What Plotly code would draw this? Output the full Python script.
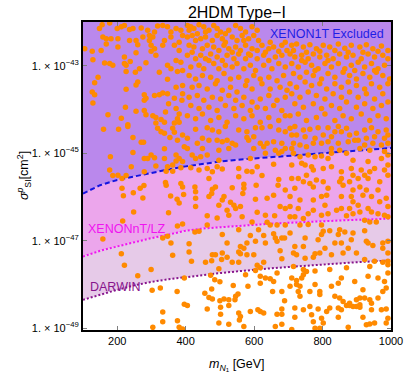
import plotly.graph_objects as go

# limit curves, mass in GeV, log10 of sigma in cm^2
limit_mass = [100, 150, 200, 250, 300, 350, 400, 450, 500, 550, 600, 650, 700, 750, 800, 850, 900, 950, 1000]
xenon1t_log = [-45.92, -45.73, -45.61, -45.53, -45.44, -45.37, -45.30, -45.24, -45.19, -45.15, -45.12, -45.09, -45.05, -45.02, -44.99, -44.97, -44.94, -44.91, -44.88]
lz_log = [-47.36, -47.23, -47.13, -47.03, -46.94, -46.86, -46.77, -46.72, -46.69, -46.66, -46.64, -46.61, -46.59, -46.57, -46.55, -46.54, -46.52, -46.51, -46.49]
darwin_log = [-48.35, -48.23, -48.12, -48.02, -47.94, -47.88, -47.83, -47.78, -47.74, -47.70, -47.66, -47.63, -47.60, -47.57, -47.54, -47.51, -47.49, -47.47, -47.45]

# scan points (m_N1 [GeV], log10 sigma)
pts_left_top = [
    (148, -42.15), (156, -42.06), (178, -42.02), (200, -42.15), (212, -42.11), (221, -42.08), (236, -42.17),
    (246, -42.15), (270, -42.14), (289, -42.19), (294, -42.31), (304, -42.34), (309, -42.23), (318, -42.09),
    (333, -42.08), (347, -42.11), (357, -42.23), (372, -42.15), (386, -42.19), (391, -42.31), (158, -42.34),
    (168, -42.38), (182, -42.38), (202, -42.38), (236, -42.42), (255, -42.42), (260, -42.52), (275, -42.34),
    (294, -42.42), (299, -42.53), (309, -42.61), (333, -42.53), (338, -42.42), (357, -42.34), (367, -42.53),
    (381, -42.46), (105, -42.61), (127, -42.67), (153, -42.65), (168, -42.50), (202, -42.57), (255, -42.70),
    (299, -42.67), (313, -42.76), (381, -42.65), (129, -42.86), (163, -42.94), (178, -42.95), (187, -42.99),
    (221, -42.80), (221, -42.95), (226, -42.99), (238, -42.90), (284, -42.93), (347, -42.99), (357, -43.07),
    (372, -42.88), (376, -43.13), (386, -42.92), (391, -43.11), (226, -43.13), (253, -43.15), (265, -43.07),
    (323, -43.15), (144, -43.26), (134, -43.39), (260, -43.37), (255, -43.44), (347, -43.31), (372, -43.49),
    (391, -43.45), (226, -43.54), (127, -43.60), (134, -43.66), (279, -43.66), (279, -43.79), (284, -43.74),
    (309, -43.68), (323, -43.66), (333, -43.62), (347, -43.64), (367, -43.74), (391, -43.64), (389, -43.79),
    (129, -43.85), (224, -43.95), (255, -44.04), (279, -44.02), (304, -44.14), (284, -44.12), (350, -43.87),
    (341, -44.06), (372, -43.98), (381, -44.10), (376, -44.21), (381, -44.29), (173, -44.12), (212, -44.20),
    (313, -44.18), (328, -44.23), (338, -44.29), (313, -44.31), (367, -44.31), (231, -44.35),
]

pts_mid_top = [
    (405, -42.08), (415, -42.11), (424, -42.15), (439, -42.06), (453, -42.11), (468, -42.19), (492, -42.15),
    (502, -42.23), (526, -42.19), (546, -42.08), (560, -42.15), (575, -42.23), (594, -42.11), (609, -42.19),
    (405, -42.34), (419, -42.31), (434, -42.27), (444, -42.38), (458, -42.34), (478, -42.42), (492, -42.31),
    (507, -42.38), (516, -42.27), (536, -42.34), (550, -42.42), (565, -42.31), (584, -42.38), (599, -42.31),
    (613, -42.42), (410, -42.53), (424, -42.57), (449, -42.61), (463, -42.53), (482, -42.57), (497, -42.65),
    (512, -42.53), (526, -42.61), (546, -42.57), (560, -42.65), (575, -42.53), (594, -42.61), (609, -42.65),
    (623, -42.53), (643, -42.61), (657, -42.57), (681, -42.53), (696, -42.65), (405, -42.76), (429, -42.84),
    (444, -42.76), (458, -42.84), (473, -42.73), (492, -42.80), (507, -42.88), (521, -42.76), (541, -42.84),
    (555, -42.73), (575, -42.84), (589, -42.76), (609, -42.84), (628, -42.76), (643, -42.88), (662, -42.80),
    (681, -42.76), (415, -43.03), (439, -42.99), (453, -43.07), (482, -42.95), (497, -43.07), (516, -42.99),
    (536, -43.03), (550, -42.95), (570, -43.07), (589, -42.99), (604, -43.11), (628, -42.99), (652, -43.07),
    (672, -42.95), (691, -43.03), (410, -43.22), (429, -43.30), (449, -43.22), (473, -43.26), (492, -43.34),
    (512, -43.18), (531, -43.30), (555, -43.26), (579, -43.34), (599, -43.22), (618, -43.30), (643, -43.26),
    (667, -43.34), (686, -43.22), (419, -43.49), (439, -43.45), (463, -43.53), (487, -43.41), (507, -43.56),
    (531, -43.49), (550, -43.60), (575, -43.45), (594, -43.53), (623, -43.41), (647, -43.53), (676, -43.49),
    (696, -43.56), (410, -43.72), (434, -43.68), (453, -43.79), (478, -43.72), (502, -43.76), (526, -43.68),
    (546, -43.79), (570, -43.72), (594, -43.83), (618, -43.76), (643, -43.68), (667, -43.79), (691, -43.72),
    (415, -43.91), (439, -43.98), (468, -43.95), (492, -44.02), (516, -43.91), (541, -43.98), (565, -43.91),
    (589, -44.02), (609, -43.95), (633, -43.98), (657, -43.91), (681, -44.02), (405, -44.14), (429, -44.21),
    (449, -44.10), (473, -44.25), (497, -44.18), (521, -44.29), (546, -44.14), (570, -44.21), (594, -44.14),
    (618, -44.29), (643, -44.18), (672, -44.25), (691, -44.14), (410, -42.19), (429, -42.42), (458, -42.23),
    (482, -42.08), (516, -42.46), (536, -42.69), (570, -42.42), (584, -42.73), (633, -42.69), (647, -42.46),
    (672, -42.67), (691, -42.46), (419, -42.69), (468, -42.88),
]

pts_right_top = [
    (710, -42.53), (724, -42.50), (744, -42.57), (763, -42.52), (782, -42.61), (802, -42.53), (821, -42.57),
    (846, -42.50), (865, -42.60), (884, -42.53), (909, -42.57), (928, -42.52), (947, -42.61), (972, -42.55),
    (991, -42.65), (705, -42.73), (719, -42.80), (739, -42.76), (758, -42.84), (773, -42.73), (792, -42.80),
    (812, -42.76), (831, -42.84), (850, -42.73), (870, -42.80), (889, -42.76), (913, -42.84), (933, -42.73),
    (952, -42.80), (976, -42.76), (991, -42.84), (710, -42.95), (729, -43.03), (749, -42.92), (768, -42.99),
    (787, -43.07), (807, -42.95), (826, -43.03), (846, -42.95), (865, -43.07), (884, -42.99), (904, -42.92),
    (923, -43.03), (943, -42.95), (962, -43.07), (981, -42.99), (715, -43.18), (734, -43.26), (753, -43.15),
    (773, -43.22), (797, -43.30), (816, -43.18), (836, -43.26), (860, -43.15), (879, -43.22), (899, -43.30),
    (918, -43.18), (938, -43.26), (957, -43.15), (976, -43.22), (996, -43.30), (705, -43.41), (724, -43.49),
    (749, -43.37), (768, -43.45), (792, -43.41), (812, -43.53), (836, -43.41), (855, -43.49), (875, -43.37),
    (899, -43.45), (923, -43.53), (943, -43.41), (967, -43.49), (991, -43.41), (710, -43.64), (734, -43.72),
    (758, -43.60), (782, -43.68), (807, -43.76), (831, -43.64), (855, -43.72), (879, -43.60), (904, -43.72),
    (928, -43.64), (952, -43.76), (976, -43.64), (719, -43.87), (744, -43.95), (773, -43.87), (797, -43.98),
    (826, -43.91), (850, -43.98), (870, -43.83), (899, -43.95), (923, -43.87), (947, -43.98), (972, -43.91),
    (991, -43.83), (705, -44.14), (729, -44.10), (753, -44.25), (782, -44.18), (807, -44.10), (836, -44.25),
    (860, -44.14), (884, -44.21), (913, -44.10), (938, -44.25), (962, -44.14), (986, -44.21), (715, -42.65),
    (753, -42.69), (792, -42.67), (836, -42.65), (875, -42.69), (918, -42.69), (962, -42.67), (739, -42.88),
    (816, -42.88), (894, -43.11), (952, -43.11), (778, -43.11),
]

pts_left_mid = [
    (160, -44.45), (204, -44.45), (231, -44.39), (246, -44.64), (270, -44.75), (277, -44.75), (318, -44.43),
    (328, -44.51), (338, -44.54), (362, -44.43), (367, -44.52), (354, -44.64), (376, -44.70), (391, -44.58),
    (396, -44.85), (338, -44.90), (246, -44.98), (180, -45.08), (178, -45.38), (202, -45.50), (187, -45.51),
    (226, -45.51), (214, -45.58), (241, -45.31), (279, -45.12), (289, -45.12), (299, -45.04), (309, -45.10),
    (338, -45.12), (313, -45.29), (347, -45.31), (362, -45.27), (372, -45.18), (381, -45.12), (391, -45.19),
    (386, -45.33), (362, -45.41), (343, -45.41), (372, -45.04), (279, -45.42), (214, -45.80), (218, -45.97),
    (247, -45.90), (267, -45.80), (278, -45.74), (275, -46.02), (341, -45.67), (343, -45.73), (386, -45.69),
    (391, -45.77), (356, -45.98), (375, -46.05), (381, -46.14), (394, -45.94), (248, -46.34), (350, -46.36),
    (216, -46.55), (391, -46.62), (376, -46.66),
]

pts_mid_mid = [
    (429, -44.45), (463, -44.42), (478, -44.47), (497, -44.51), (516, -44.39), (555, -44.47), (579, -44.51),
    (604, -44.42), (623, -44.42), (647, -44.39), (672, -44.47), (691, -44.51), (405, -44.66), (449, -44.66),
    (468, -44.70), (492, -44.70), (507, -44.74), (521, -44.70), (536, -44.77), (579, -44.64), (584, -44.70),
    (599, -44.62), (618, -44.77), (638, -44.77), (657, -44.74), (681, -44.77), (691, -44.89), (681, -44.96),
    (405, -44.89), (434, -44.77), (449, -44.89), (497, -44.93), (526, -44.89), (546, -44.81), (599, -44.89),
    (628, -44.85), (662, -44.93), (419, -45.04), (463, -45.04), (497, -45.16), (444, -45.08), (429, -45.12),
    (589, -45.12), (633, -45.00), (672, -45.00), (415, -45.33), (439, -45.38), (463, -45.35), (478, -45.42),
    (492, -45.31), (507, -45.36), (555, -45.35), (579, -45.41), (594, -45.42), (609, -45.31), (623, -45.51),
    (657, -45.25), (555, -45.54), (468, -45.58), (487, -45.77), (427, -45.77), (429, -45.88), (478, -45.82),
    (476, -45.92), (536, -45.79), (570, -45.71), (570, -45.80), (567, -45.92), (606, -45.73), (672, -45.60),
    (670, -45.73), (657, -45.96), (638, -46.03), (691, -45.84), (429, -46.03), (468, -45.99), (512, -45.99),
    (507, -46.07), (497, -46.19), (531, -46.12), (541, -46.19), (546, -46.26), (521, -46.30), (560, -46.22),
    (526, -46.42), (565, -46.45), (604, -46.05), (609, -46.35), (633, -46.42), (660, -46.43), (676, -46.22),
    (691, -46.26), (463, -46.43), (492, -46.48), (463, -46.64), (638, -46.58), (647, -46.64), (667, -46.64),
    (691, -46.64), (594, -46.57), (429, -46.22),
]

pts_right_mid = [
    (705, -44.43), (719, -44.39), (744, -44.47), (763, -44.45), (787, -44.42), (816, -44.42), (846, -44.39),
    (855, -44.51), (870, -44.43), (879, -44.58), (899, -44.54), (923, -44.47), (943, -44.42), (962, -44.51),
    (986, -44.47), (991, -44.58), (710, -44.58), (724, -44.58), (749, -44.62), (778, -44.66), (802, -44.58),
    (826, -44.62), (836, -44.51), (904, -44.70), (928, -44.66), (952, -44.62), (981, -44.66), (715, -44.77),
    (734, -44.81), (753, -44.85), (773, -44.77), (797, -44.77), (816, -44.74), (846, -44.77), (875, -44.74),
    (894, -44.70), (923, -44.81), (947, -44.77), (972, -44.81), (991, -44.77), (710, -44.89), (826, -44.89),
    (850, -44.93), (870, -45.00), (909, -44.89), (938, -44.93), (981, -44.96), (715, -45.00), (734, -45.08),
    (758, -45.04), (778, -45.08), (797, -45.06), (816, -45.12), (826, -45.00), (889, -45.16), (933, -45.19),
    (972, -45.12), (991, -45.04), (710, -45.27), (739, -45.23), (749, -45.27), (768, -45.31), (773, -45.38),
    (802, -45.35), (826, -45.31), (855, -45.42), (884, -45.35), (913, -45.38), (938, -45.42), (952, -45.35),
    (981, -45.38), (991, -45.27), (710, -45.58), (729, -45.58), (753, -45.50), (744, -45.65), (719, -45.80),
    (773, -45.77), (802, -45.65), (816, -45.80), (855, -45.58), (850, -45.65), (860, -45.73), (879, -45.65),
    (889, -45.50), (904, -45.58), (923, -45.50), (933, -45.58), (967, -45.65), (991, -45.50), (763, -45.69),
    (782, -45.61), (928, -45.84), (962, -45.84), (918, -45.96), (889, -45.84), (909, -45.77), (705, -45.99),
    (734, -46.07), (773, -46.07), (797, -45.99), (812, -45.96), (855, -45.99), (884, -45.99), (889, -46.11),
    (904, -46.19), (933, -46.26), (943, -45.99), (967, -46.11), (986, -46.03), (991, -46.22), (705, -46.22),
    (729, -46.26), (758, -46.38), (773, -46.30), (807, -46.19), (816, -46.38), (841, -46.30), (855, -46.26),
    (879, -46.26), (909, -46.34), (943, -46.34), (962, -46.38), (705, -46.45), (719, -46.45), (744, -46.49),
    (797, -46.42), (870, -46.43), (889, -46.38), (923, -46.53), (938, -46.57), (957, -46.57), (991, -46.45),
    (981, -46.42), (734, -46.64), (758, -46.63), (797, -46.64),
]

pts_low = [
    (158, -46.96), (333, -46.94), (347, -46.90), (357, -47.05), (212, -47.30), (362, -47.33), (221, -47.56),
    (260, -47.80), (299, -47.66), (396, -47.85), (302, -48.13), (326, -48.08), (375, -48.16), (396, -48.45),
    (333, -48.63), (333, -48.85), (376, -48.83), (304, -48.98), (381, -48.98), (391, -49.02),
    (410, -47.07), (410, -47.26), (417, -47.47), (439, -46.78), (427, -46.80), (507, -46.86), (555, -46.75),
    (613, -46.75), (657, -46.84), (628, -46.88), (589, -46.88), (604, -47.01), (579, -47.05), (521, -47.05),
    (633, -47.05), (667, -47.01), (681, -46.94), (689, -46.94), (662, -46.94), (560, -47.13), (570, -47.17),
    (478, -47.32), (487, -47.32), (507, -47.28), (505, -47.43), (521, -47.38), (555, -47.26), (560, -47.30),
    (579, -47.32), (599, -47.32), (536, -47.49), (555, -47.49), (458, -47.49), (476, -47.46), (628, -47.49),
    (681, -47.41), (676, -47.23), (609, -47.56), (618, -47.62), (604, -47.68), (497, -47.64), (667, -47.74),
    (633, -47.85), (647, -47.87), (657, -47.93), (618, -47.81), (618, -47.97), (575, -47.78), (473, -47.79),
    (485, -47.89), (500, -47.94), (539, -48.02), (582, -48.04), (476, -48.10), (456, -48.20), (468, -48.30),
    (478, -48.33), (500, -48.37), (512, -48.33), (526, -48.35), (546, -48.27), (553, -48.22), (544, -48.35),
    (526, -48.48), (502, -48.52), (463, -48.56), (405, -48.48), (555, -48.65), (560, -48.73), (557, -48.81),
    (589, -48.62), (611, -48.58), (628, -48.65), (618, -48.62), (667, -48.68), (681, -48.68), (681, -48.56),
    (689, -48.37), (654, -48.16), (681, -48.16), (502, -48.68), (497, -48.88), (526, -48.91), (570, -48.96),
    (662, -48.96), (681, -48.91),
    (705, -46.82), (797, -46.86), (802, -46.78), (821, -46.77), (846, -46.86), (850, -46.75), (865, -46.80),
    (889, -46.82), (923, -46.77), (884, -46.98), (855, -47.05), (836, -47.05), (787, -46.98), (749, -46.94),
    (744, -47.13), (719, -47.13), (715, -47.28), (724, -47.32), (778, -47.30), (792, -47.28), (807, -47.17),
    (826, -47.32), (860, -47.28), (875, -47.17), (899, -47.28), (928, -47.01), (933, -47.05), (947, -47.11),
    (976, -47.05), (991, -47.01), (976, -47.17), (991, -47.28), (773, -47.38), (749, -47.40), (923, -47.43),
    (952, -47.47), (976, -47.49), (991, -47.47), (715, -47.59), (744, -47.66), (753, -47.70), (778, -47.69),
    (821, -47.66), (870, -47.62), (938, -47.59), (991, -47.55), (744, -47.78), (739, -47.85), (710, -47.85),
    (724, -47.91), (724, -48.00), (734, -48.04), (729, -48.16), (734, -48.27), (778, -48.00), (792, -48.16),
    (792, -48.23), (826, -48.04), (846, -47.97), (855, -47.85), (894, -47.93), (933, -47.81), (962, -47.85),
    (981, -47.93), (986, -48.08), (991, -47.74), (705, -48.04), (763, -48.16), (836, -48.27), (850, -48.31),
    (860, -48.39), (879, -48.43), (889, -48.50), (899, -48.35), (909, -48.31), (923, -48.31), (909, -48.46),
    (918, -48.12), (938, -48.35), (943, -48.43), (962, -48.31), (976, -48.16), (719, -48.54), (744, -48.58),
    (763, -48.50), (787, -48.56), (812, -48.62), (821, -48.54), (846, -48.54), (855, -48.58), (870, -48.48),
    (879, -48.48), (899, -48.50), (909, -48.52), (943, -48.58), (972, -48.58), (986, -48.56), (719, -48.75),
    (768, -48.69), (773, -48.85), (797, -48.77), (802, -48.88), (846, -48.75), (918, -48.75), (928, -48.92),
    (938, -48.90), (952, -48.88), (986, -48.88), (991, -48.77), (778, -49.00), (792, -49.00), (875, -48.98),
    (710, -49.03),
]

all_pts = pts_left_top + pts_mid_top + pts_right_top + pts_left_mid + pts_mid_mid + pts_right_mid + pts_low
pt_mass = [p[0] for p in all_pts]
pt_sigma = [10 ** p[1] for p in all_pts]

xenon1t = [10 ** v for v in xenon1t_log]
lz = [10 ** v for v in lz_log]
darwin = [10 ** v for v in darwin_log]
top = [10 ** -41.9] * len(limit_mass)

fig = go.Figure()

# shaded bands, bottom up
fig.add_trace(go.Scatter(x=limit_mass, y=darwin, mode="lines", line=dict(width=0), hoverinfo="skip"))
fig.add_trace(go.Scatter(x=limit_mass, y=lz, mode="lines", line=dict(width=0), fill="tonexty",
                         fillcolor="rgb(230,202,232)", hoverinfo="skip"))
fig.add_trace(go.Scatter(x=limit_mass, y=xenon1t, mode="lines", line=dict(width=0), fill="tonexty",
                         fillcolor="rgb(236,166,236)", hoverinfo="skip"))
fig.add_trace(go.Scatter(x=limit_mass, y=top, mode="lines", line=dict(width=0), fill="tonexty",
                         fillcolor="rgb(186,136,236)", hoverinfo="skip"))

# limit lines
fig.add_trace(go.Scatter(x=limit_mass, y=xenon1t, mode="lines",
                         line=dict(color="rgb(20,20,225)", width=2, dash="5px,3px")))
fig.add_trace(go.Scatter(x=limit_mass, y=lz, mode="lines",
                         line=dict(color="rgb(240,20,240)", width=2, dash="2px,2px")))
fig.add_trace(go.Scatter(x=limit_mass, y=darwin, mode="lines",
                         line=dict(color="rgb(135,20,140)", width=2, dash="2px,2px")))

fig.add_trace(go.Scatter(x=pt_mass, y=pt_sigma, mode="markers",
                         marker=dict(color="rgb(255,138,0)", size=5.5, line=dict(width=0))))

fig.add_annotation(x=985, y=-42.27, text="XENON1T Excluded", showarrow=False, xanchor="right",
                   font=dict(color="rgb(30,30,230)", size=12.5, family="Liberation Sans"))
fig.add_annotation(x=108, y=-46.73, text="XENONnT/LZ", showarrow=False, xanchor="left",
                   font=dict(color="rgb(240,20,240)", size=12.5, family="Liberation Sans"))
fig.add_annotation(x=114, y=-48.06, text="DARWIN", showarrow=False, xanchor="left",
                   font=dict(color="rgb(135,20,140)", size=12.5, family="Liberation Sans"))

# axis titles
fig.add_annotation(xref="paper", yref="paper", x=-0.227, y=0.5, textangle=-90, showarrow=False,
                   text="<i>σ</i><sup><i>p</i></sup><sub>SI</sub>[cm<sup>2</sup>]", font=dict(size=12.5))
fig.add_annotation(xref="paper", yref="paper", x=0.5, y=-0.114, yanchor="middle", showarrow=False,
                   text="<i>m</i><sub><i>N</i><sub>1</sub></sub> [GeV]", font=dict(size=12.5))

ytick_vals = [1e-49, 1e-47, 1e-45, 1e-43]
ytick_text = ["1. × 10<sup>−49</sup>", "1. × 10<sup>−47</sup>", "1. × 10<sup>−45</sup>", "1. × 10<sup>−43</sup>"]

fig.update_layout(
    width=407, height=374,
    margin=dict(l=83, r=16, t=22, b=44),
    paper_bgcolor="white", plot_bgcolor="white",
    showlegend=False,
    font=dict(family="Liberation Sans", color="black", size=10),
    title=dict(text="2HDM Type−I", x=0.582, xanchor="center", y=0.968, yanchor="middle",
               font=dict(size=16, family="Liberation Sans")),
    xaxis=dict(range=[100, 1000], tickvals=[200, 400, 600, 800, 1000], showgrid=False, zeroline=False,
               showline=True, linecolor="black", linewidth=2, mirror="ticks", ticks="inside", ticklen=4,
               tickcolor="gray", tickfont=dict(size=11), automargin=False),
    yaxis=dict(type="log", range=[-49.04, -42.0], tickvals=ytick_vals, ticktext=ytick_text, showgrid=False,
               zeroline=False, showline=True, linecolor="black", linewidth=2, mirror="ticks", ticks="inside",
               ticklen=4, tickcolor="gray", tickfont=dict(size=11), automargin=False),
)

# drop the default 8px page margin so the figure sits at the window corner
fig.write_html("out.html", config={"displayModeBar": False},
               post_script="document.body.style.margin='0';")
